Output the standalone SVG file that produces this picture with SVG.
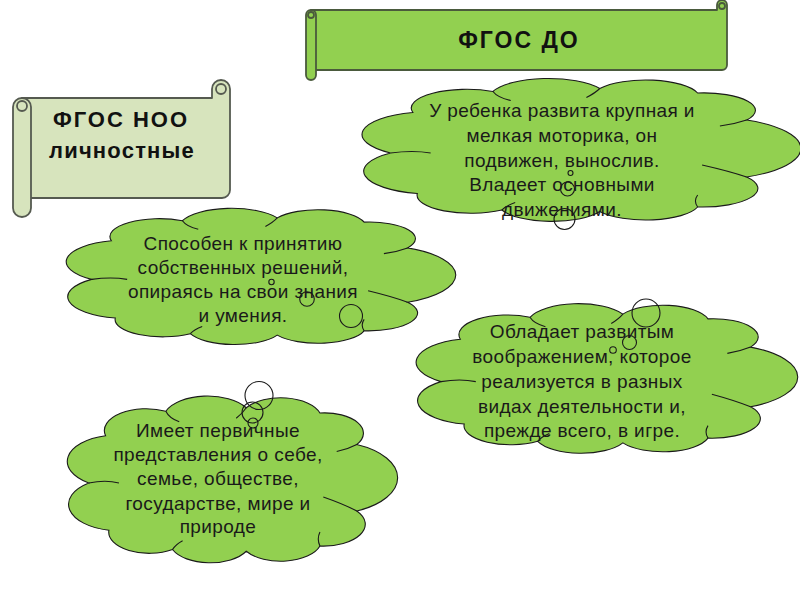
<svg xmlns="http://www.w3.org/2000/svg" width="800" height="600" viewBox="0 0 800 600">
<defs>
<style>
.cloud{fill:#92D050;stroke:#1a1a1a;stroke-width:1.1;vector-effect:non-scaling-stroke}
.crease{fill:none;stroke:#1a1a1a;stroke-width:1.1;vector-effect:non-scaling-stroke}
.bub{fill:none;stroke:#1a1a1a;stroke-width:1.1}
.t{font-family:"Liberation Sans",Arial,sans-serif;font-size:19px;fill:#1a1a1a;text-anchor:middle;letter-spacing:0.4px}
.h{font-family:"Liberation Sans",Arial,sans-serif;font-weight:bold;font-size:22px;fill:#111;text-anchor:middle;letter-spacing:2px}
.s1{fill:#92D050;stroke:#4a5a3c;stroke-width:1.8;stroke-linejoin:round}
.s2{fill:#D7E4BD;stroke:#555a50;stroke-width:1.8;stroke-linejoin:round}
</style>
</defs>
<rect width="800" height="600" fill="#fff"/>

<g id="scroll-do">
<path class="s1" d="M311 10 H717 V5 A5 5 0 0 1 727 5 V65 A5 5 0 0 1 722 70 H311 Z"/>
<circle class="s1" cx="722" cy="6" r="3"/>
<rect class="s1" x="306" y="10" width="10" height="70" rx="5"/>
<circle class="s1" cx="311" cy="15" r="3"/>
<text class="h" x="519" y="48" style="font-size:23px">ФГОС ДО</text>
</g>

<g id="scroll-noo">
<path class="s2" d="M22 98 H212 V89 A9 9 0 0 1 230 89 V190 A8 8 0 0 1 222 198 H22 Z"/>
<circle class="s2" cx="221" cy="89" r="5"/>
<rect class="s2" x="13" y="98" width="18" height="119" rx="9"/>
<circle class="s2" cx="22" cy="106" r="5"/>
<text class="h" x="121" y="127">ФГОС НОО</text>
<text class="h" x="122" y="158" style="letter-spacing:1.2px">личностные</text>
</g>

<g id="cloud-do">
<g transform="translate(355 75) scale(4.45 1.5)">
<path class="cloud" d="M8 52 A15.1 15.1 0 0 1 13 25 A12.5 12.5 0 0 1 31 11 A13.3 13.3 0 0 1 55 9 A12.2 12.2 0 0 1 77 12 A11.6 11.6 0 0 1 88 30 A20.9 20.9 0 0 1 88 68 A12.5 12.5 0 0 1 77 88 A12.2 12.2 0 0 1 55 91 A12.1 12.1 0 0 1 33 90 A12.1 12.1 0 0 1 14 79 A15.2 15.2 0 0 1 8 52 Z"/>
<path class="crease" d="M8 52 Q13 50 17 52 M31 11 Q32 15 35 17 M55 9 Q54 12 52 15 M88 30 Q85 33 82 34 M88 68 Q84 64 78 60 M77 88 Q76 84 77 80 M33 90 Q34 87 36 85"/>
</g>
<circle class="bub" cx="570.5" cy="173" r="2.5"/>
<circle class="bub" cx="567.5" cy="189" r="7"/>
<circle class="bub" cx="564.5" cy="219" r="10.5"/>
<text class="t" x="562" y="117">У ребенка развита крупная и</text>
<text class="t" x="562" y="142">мелкая моторика, он</text>
<text class="t" x="562" y="167">подвижен, вынослив.</text>
<text class="t" x="562" y="191">Владеет основными</text>
<text class="t" x="562" y="216">движениями.</text>
</g>

<g id="cloud-decisions">
<g transform="translate(60 205) scale(3.95 1.43)">
<path class="cloud" d="M8 52 A15.1 15.1 0 0 1 13 25 A12.5 12.5 0 0 1 31 11 A13.3 13.3 0 0 1 55 9 A12.2 12.2 0 0 1 77 12 A11.6 11.6 0 0 1 88 30 A20.9 20.9 0 0 1 88 68 A12.5 12.5 0 0 1 77 88 A12.2 12.2 0 0 1 55 91 A12.1 12.1 0 0 1 33 90 A12.1 12.1 0 0 1 14 79 A15.2 15.2 0 0 1 8 52 Z"/>
<path class="crease" d="M8 52 Q13 50 17 52 M31 11 Q32 15 35 17 M55 9 Q54 12 52 15 M88 30 Q85 33 82 34 M88 68 Q84 64 78 60 M77 88 Q76 84 77 80 M33 90 Q34 87 36 85"/>
</g>
<circle class="bub" cx="271.5" cy="282" r="2.7"/>
<circle class="bub" cx="307" cy="299" r="7.3"/>
<circle class="bub" cx="351" cy="316" r="11.5"/>
<text class="t" x="243" y="250">Способен к принятию</text>
<text class="t" x="243" y="274">собственных решений,</text>
<text class="t" x="243" y="298">опираясь на свои знания</text>
<text class="t" x="243" y="322">и  умения.</text>
</g>

<g id="cloud-imagination">
<g transform="translate(410 300) scale(3.87 1.57)">
<path class="cloud" d="M8 52 A15.1 15.1 0 0 1 13 25 A12.5 12.5 0 0 1 31 11 A13.3 13.3 0 0 1 55 9 A12.2 12.2 0 0 1 77 12 A11.6 11.6 0 0 1 88 30 A20.9 20.9 0 0 1 88 68 A12.5 12.5 0 0 1 77 88 A12.2 12.2 0 0 1 55 91 A12.1 12.1 0 0 1 33 90 A12.1 12.1 0 0 1 14 79 A15.2 15.2 0 0 1 8 52 Z"/>
<path class="crease" d="M8 52 Q13 50 17 52 M31 11 Q32 15 35 17 M55 9 Q54 12 52 15 M88 30 Q85 33 82 34 M88 68 Q84 64 78 60 M77 88 Q76 84 77 80 M33 90 Q34 87 36 85"/>
</g>
<circle class="bub" cx="646" cy="313" r="14"/>
<circle class="bub" cx="629.5" cy="342.5" r="7"/>
<circle class="bub" cx="613" cy="350" r="3.3"/>
<text class="t" x="582" y="338">Обладает развитым</text>
<text class="t" x="582" y="363">воображением, которое</text>
<text class="t" x="582" y="388">реализуется в разных</text>
<text class="t" x="582" y="413">видах деятельности и,</text>
<text class="t" x="582" y="437">прежде всего, в игре.</text>
</g>

<g id="cloud-ideas">
<g transform="translate(62 392) scale(3.35 1.75)">
<path class="cloud" d="M8 52 A15.1 15.1 0 0 1 13 25 A12.5 12.5 0 0 1 31 11 A13.3 13.3 0 0 1 55 9 A12.2 12.2 0 0 1 77 12 A11.6 11.6 0 0 1 88 30 A20.9 20.9 0 0 1 88 68 A12.5 12.5 0 0 1 77 88 A12.2 12.2 0 0 1 55 91 A12.1 12.1 0 0 1 33 90 A12.1 12.1 0 0 1 14 79 A15.2 15.2 0 0 1 8 52 Z"/>
<path class="crease" d="M8 52 Q13 50 17 52 M31 11 Q32 15 35 17 M55 9 Q54 12 52 15 M88 30 Q85 33 82 34 M88 68 Q84 64 78 60 M77 88 Q76 84 77 80 M33 90 Q34 87 36 85"/>
</g>
<circle class="bub" cx="259" cy="395.5" r="14"/>
<circle class="bub" cx="252.5" cy="412.5" r="10.5"/>
<circle class="bub" cx="253" cy="423" r="5"/>
<text class="t" x="218" y="437">Имеет первичные</text>
<text class="t" x="218" y="461">представления о себе,</text>
<text class="t" x="218" y="485">семье, обществе,</text>
<text class="t" x="218" y="510">государстве, мире и</text>
<text class="t" x="218" y="533">природе</text>
</g>

<g id="connectors"></g>
</svg>
